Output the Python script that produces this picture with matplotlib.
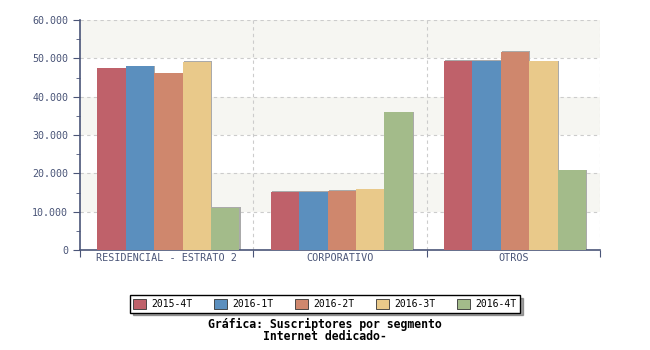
import matplotlib.pyplot as plt
import numpy as np
from matplotlib.ticker import FuncFormatter, MultipleLocator

categories = ['RESIDENCIAL - ESTRATO 2', 'CORPORATIVO', 'OTROS']
series = ['2015-4T', '2016-1T', '2016-2T', '2016-3T', '2016-4T']
values = {
    '2015-4T': [47400, 15200, 49400],
    '2016-1T': [47900, 15200, 49400],
    '2016-2T': [46100, 15500, 51600],
    '2016-3T': [49000, 15800, 49200],
    '2016-4T': [10900, 35900, 20800],
}
colors = ['#bf616a', '#5b8fbe', '#cf876d', '#e9c98a', '#a3bb8a']
title_lines = ['Gráfica: Suscriptores por segmento', 'Internet dedicado-']

plt.rcParams['font.family'] = 'DejaVu Sans Mono'
axis_col = '#4a5578'

fig = plt.figure(figsize=(6.5, 3.5), dpi=100)
ax = fig.add_axes([80 / 650, 100 / 350, 520 / 650, 230 / 350])

# alternating bands
for lo in range(0, 60000, 10000):
    if (lo // 10000) % 2 == 1:
        ax.axhspan(lo, lo + 10000, color='#f6f6f2', zorder=0, lw=0)
for y in range(10000, 60001, 10000):
    ax.axhline(y, color='#cccccc', ls=(0, (3, 3)), lw=0.8, zorder=1)
for x in [1, 2, 3]:
    ax.axvline(x, color='#cccccc', ls=(0, (3, 3)), lw=0.8, zorder=1)

n = len(series)
bw = 0.164
x0 = np.arange(len(categories)) + 0.5
for i, s in enumerate(series):
    xs = x0 + (i - (n - 1) / 2) * bw + 0.01
    # shadow
    ax.bar(xs + 0.006, np.array(values[s]) + 200, bw, color='#aaaaaa', zorder=2, lw=0)
    ax.bar(xs, values[s], bw, color=colors[i], zorder=3, lw=0, label=s)

ax.set_xlim(0, 3)
ax.set_ylim(0, 60000)
ax.yaxis.set_major_locator(MultipleLocator(10000))
ax.yaxis.set_minor_locator(MultipleLocator(5000))
ax.yaxis.set_major_formatter(FuncFormatter(lambda v, p: '0' if v == 0 else f'{int(v):,}'.replace(',', '.')))
ax.set_xticks([0, 1, 2, 3])
ax.set_xticklabels([])
ax.set_xticks(x0, minor=True)
ax.set_xticklabels(categories, minor=True)
ax.tick_params(axis='x', which='minor', length=0, pad=2, labelsize=7.3, colors=axis_col)
ax.tick_params(axis='x', which='major', length=5, direction='out', color=axis_col, bottom=True)
ax.tick_params(axis='y', which='major', length=5, color=axis_col, labelsize=7.2, labelcolor=axis_col)
ax.tick_params(axis='y', which='minor', length=3, color=axis_col)
for sp in ['top', 'right']:
    ax.spines[sp].set_visible(False)
for sp in ['left', 'bottom']:
    ax.spines[sp].set_color(axis_col)
    ax.spines[sp].set_linewidth(1.2)

leg = fig.legend(loc='center', bbox_to_anchor=(325 / 650, 1 - 304 / 350), ncol=5,
                 fontsize=7, frameon=True, fancybox=False, shadow=True,
                 handlelength=1.3, handleheight=1.3, columnspacing=2.2, handletextpad=0.6,
                 borderpad=0.35, edgecolor='black')
leg.get_frame().set_linewidth(1.0)
for h in leg.legend_handles:
    h.set_edgecolor('#333333')
    h.set_linewidth(0.6)

fig.text(325 / 650, 1 - 324 / 350, title_lines[0], ha='center', va='center', fontsize=8.3, fontweight='bold')
fig.text(325 / 650, 1 - 337 / 350, title_lines[1], ha='center', va='center', fontsize=8.3, fontweight='bold')

plt.savefig('out.png', dpi=100)
